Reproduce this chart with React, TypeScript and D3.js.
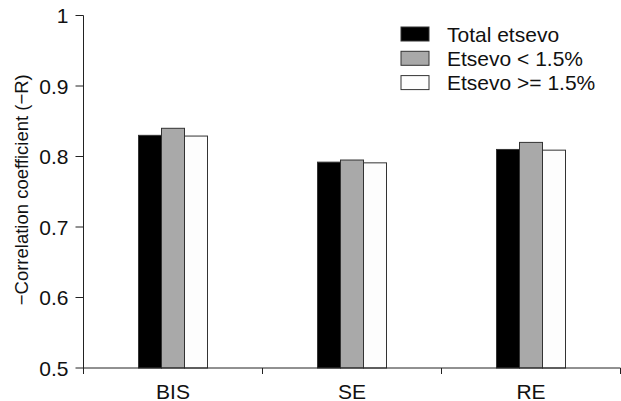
import React from "react";
import * as d3 from "d3";

const categories = ["BIS", "SE", "RE"];
const seriesNames = ["Total etsevo", "Etsevo < 1.5%", "Etsevo >= 1.5%"];
const totalEtsevo = [0.83, 0.792, 0.81];
const etsevoLow = [0.84, 0.795, 0.82];
const etsevoHigh = [0.829, 0.791, 0.809];
const yTicks = [0.5, 0.6, 0.7, 0.8, 0.9, 1];
const yTickLabels = ["0.5", "0.6", "0.7", "0.8", "0.9", "1"];

const colors = ["#000000", "#a9a9a9", "#fdfdfd"];
const font = "'Liberation Sans', Arial, sans-serif";

const width = 621;
const height = 401;
const margin = { top: 15.5, right: 0.5, bottom: 33, left: 83.5 };

export default function App() {
  const series = [totalEtsevo, etsevoLow, etsevoHigh];

  const x = d3
    .scaleBand()
    .domain(categories)
    .range([margin.left, width - margin.right]);
  const y = d3
    .scaleLinear()
    .domain([0.5, 1])
    .range([height - margin.bottom, margin.top]);
  // bars inside each group
  const groupW = 69;
  const inner = d3
    .scaleBand()
    .domain(seriesNames)
    .range([0, groupW]);

  const base = y(0.5);
  const bounds = [margin.left, ...categories.map((c) => (x(c) as number) + x.bandwidth())];

  return (
    <svg
      width={width}
      height={height}
      style={{ position: "absolute", left: 0, top: 0 }}
      fontFamily={font}
    >
      <rect width={width} height={height} fill="#fff" />

      {/* bars */}
      {categories.map((c, i) => {
        const gx = (x(c) as number) + x.bandwidth() / 2 - groupW / 2;
        return (
          <g key={c}>
            {series.map((s, j) => (
              <rect
                key={j}
                x={gx + (inner(seriesNames[j]) as number)}
                y={y(s[i])}
                width={inner.bandwidth()}
                height={base - y(s[i])}
                fill={colors[j]}
                stroke="#333"
                strokeWidth={1}
              />
            ))}
          </g>
        );
      })}

      {/* y axis */}
      <line x1={margin.left} x2={margin.left} y1={y(1)} y2={base + 6} stroke="#222" />
      {yTicks.map((t, i) => (
        <g key={t} transform={`translate(0,${y(t)})`}>
          <line x1={margin.left - 8} x2={margin.left} stroke="#222" />
          <text
            x={margin.left - 15}
            dy="0.36em"
            textAnchor="end"
            fontSize={21}
            fill="#111"
          >
            {yTickLabels[i]}
          </text>
        </g>
      ))}

      {/* x axis */}
      <line x1={margin.left} x2={width - margin.right} y1={base} y2={base} stroke="#222" />
      {bounds.map((b, i) => (
        <line key={i} x1={b} x2={b} y1={base} y2={base + 6} stroke="#222" />
      ))}
      {categories.map((c) => (
        <text
          key={c}
          x={(x(c) as number) + x.bandwidth() / 2}
          y={base + 30.5}
          textAnchor="middle"
          fontSize={21}
          fill="#111"
        >
          {c}
        </text>
      ))}

      <text
        transform={`translate(28,${(y(1) + base) / 2 - 2}) rotate(-90)`}
        textAnchor="middle"
        fontSize={18.5}
        fill="#111"
      >
        −Correlation coefficient (−R)
      </text>

      {/* legend */}
      {seriesNames.map((n, j) => (
        <g key={n} transform={`translate(401,${27 + j * 24.3})`}>
          <rect width={28} height={14} fill={colors[j]} stroke="#333" />
          <text x={46} y={7} dy="0.36em" fontSize={21} fill="#111">
            {n}
          </text>
        </g>
      ))}
    </svg>
  );
}
